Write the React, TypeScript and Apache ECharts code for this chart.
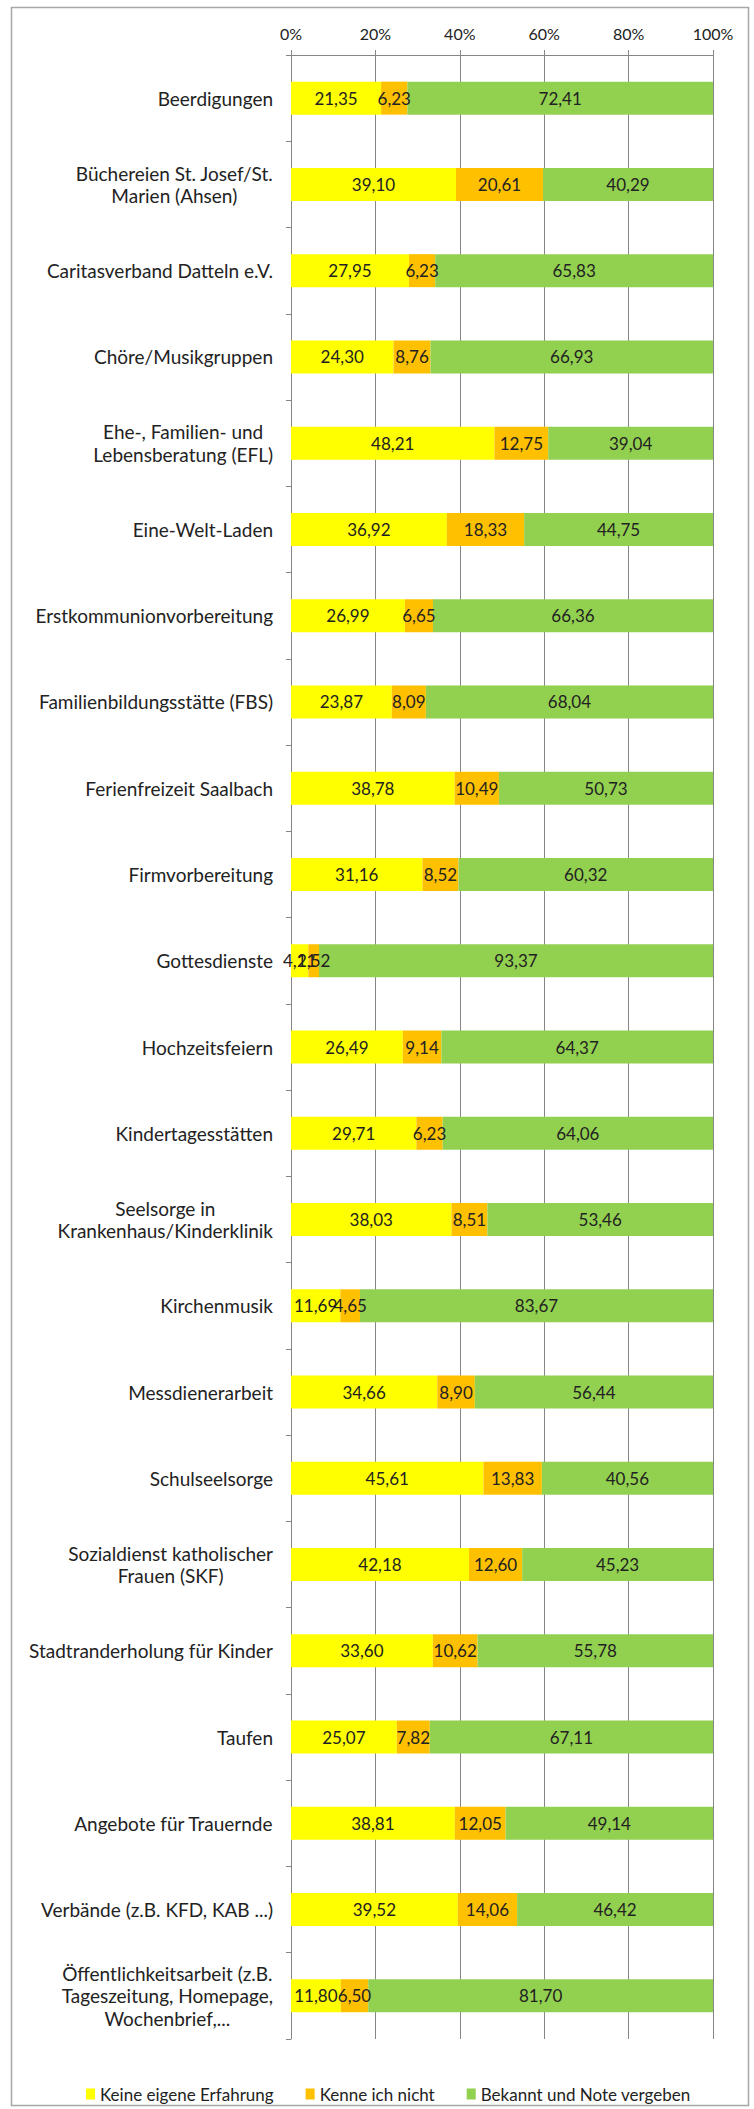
import React, { useEffect, useRef } from "react";
import * as echarts from "echarts";

const categories: string[] = [
  "Beerdigungen",
  "Büchereien St. Josef/St.\nMarien (Ahsen)",
  "Caritasverband Datteln e.V.",
  "Chöre/Musikgruppen",
  "Ehe-, Familien- und\nLebensberatung (EFL)",
  "Eine-Welt-Laden",
  "Erstkommunionvorbereitung",
  "Familienbildungsstätte (FBS)",
  "Ferienfreizeit Saalbach",
  "Firmvorbereitung",
  "Gottesdienste",
  "Hochzeitsfeiern",
  "Kindertagesstätten",
  "Seelsorge in\nKrankenhaus/Kinderklinik",
  "Kirchenmusik",
  "Messdienerarbeit",
  "Schulseelsorge",
  "Sozialdienst katholischer\nFrauen (SKF)",
  "Stadtranderholung für Kinder",
  "Taufen",
  "Angebote für Trauernde",
  "Verbände (z.B. KFD, KAB ...)",
  "Öffentlichkeitsarbeit (z.B.\nTageszeitung, Homepage,\nWochenbrief,...",
];

const keineEigeneErfahrung: number[] = [
  21.35, 39.1, 27.95, 24.3, 48.21, 36.92, 26.99, 23.87, 38.78, 31.16, 4.11,
  26.49, 29.71, 38.03, 11.69, 34.66, 45.61, 42.18, 33.6, 25.07, 38.81, 39.52,
  11.8,
];
const kenneIchNicht: number[] = [
  6.23, 20.61, 6.23, 8.76, 12.75, 18.33, 6.65, 8.09, 10.49, 8.52, 2.52, 9.14,
  6.23, 8.51, 4.65, 8.9, 13.83, 12.6, 10.62, 7.82, 12.05, 14.06, 6.5,
];
const bekanntUndNote: number[] = [
  72.41, 40.29, 65.83, 66.93, 39.04, 44.75, 66.36, 68.04, 50.73, 60.32, 93.37,
  64.37, 64.06, 53.46, 83.67, 56.44, 40.56, 45.23, 55.78, 67.11, 49.14, 46.42,
  81.7,
];
const seriesNames: string[] = [
  "Keine eigene Erfahrung",
  "Kenne ich nicht",
  "Bekannt und Note vergeben",
];
const xTicks: number[] = [0, 20, 40, 60, 80, 100];

const FONT = "Lato, 'Open Sans', sans-serif";
const TEXT = "#222222";
const GRID = "#868686";

export default function App() {
  const ref = useRef<HTMLDivElement>(null);

  useEffect(() => {
    document.body.style.margin = "0";
    if (!ref.current) return;
    const chart = echarts.init(ref.current, undefined, { renderer: "svg" });

    const fmt = (v: number) => v.toFixed(2).replace(".", ",");
    const colors = ["#FFFF00", "#FFC000", "#92D050"];
    const datasets = [keineEigeneErfahrung, kenneIchNicht, bekanntUndNote];

    const series = datasets.map((d, i) => ({
      name: seriesNames[i],
      type: "bar",
      stack: "total",
      barWidth: 33,
      data: d,
      itemStyle: { color: colors[i] },
      label: {
        show: true,
        position: "inside",
        color: TEXT,
        fontFamily: FONT,
        fontSize: 17,
        formatter: (p: any) => fmt(p.value),
      },
    }));

    chart.setOption({
      animation: false,
      backgroundColor: "#ffffff",
      grid: { left: 291, right: 41, top: 55, bottom: 70, containLabel: false },
      xAxis: {
        type: "value",
        position: "top",
        min: xTicks[0],
        max: xTicks[xTicks.length - 1],
        interval: xTicks[1] - xTicks[0],
        axisLine: { show: true, lineStyle: { color: GRID, width: 1 } },
        axisTick: { show: true, length: 5, lineStyle: { color: GRID } },
        splitLine: { show: true, lineStyle: { color: GRID, width: 1 } },
        axisLabel: {
          formatter: "{value}%",
          color: TEXT,
          fontFamily: FONT,
          fontSize: 16,
          margin: 14,
        },
      },
      yAxis: {
        type: "category",
        inverse: true,
        data: categories,
        axisLine: { show: true, lineStyle: { color: GRID, width: 1 } },
        axisTick: { show: true, length: 5, alignWithLabel: false, lineStyle: { color: GRID } },
        splitLine: { show: false },
        axisLabel: {
          margin: 18,
          color: TEXT,
          fontFamily: FONT,
          fontSize: 19,
          lineHeight: 22.5,
          align: "right",
          formatter: (v: string) =>
            v
              .split("\n")
              .map((l) => "{c|" + l + "}")
              .join("\n"),
          rich: {
            c: {
              align: "center",
              color: TEXT,
              fontFamily: FONT,
              fontSize: 19,
              lineHeight: 22.5,
            },
          },
        },
      },
      legend: {
        show: true,
        left: 81,
        top: 2079,
        orient: "horizontal",
        icon: "rect",
        itemWidth: 9,
        itemHeight: 11,
        itemGap: 32,
        data: seriesNames,
        textStyle: { color: TEXT, fontFamily: FONT, fontSize: 17, lineHeight: 20 },
      },
      graphic: [
        {
          type: "rect",
          silent: true,
          shape: { x: 11.5, y: 7.5, width: 737, height: 2098 },
          style: { fill: "none", stroke: "#A6A6A6", lineWidth: 1.5 },
        },
      ],
      series,
    });

    return () => chart.dispose();
  }, []);

  return <div ref={ref} style={{ width: 754, height: 2109 }} />;
}
